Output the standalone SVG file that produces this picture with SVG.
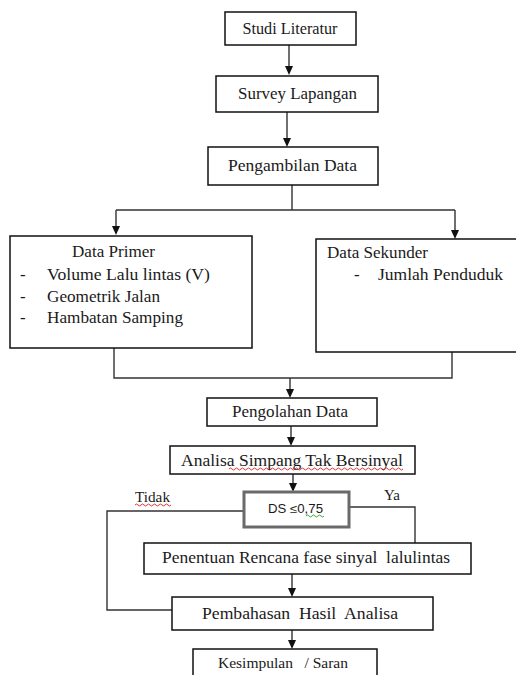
<svg xmlns="http://www.w3.org/2000/svg" width="516" height="675" viewBox="0 0 516 675">
<style>
.box{fill:#fff;stroke:#111;stroke-width:1.5}
.ds{fill:#fff;stroke:#6a6a6a;stroke-width:3}
.t{font-family:"Liberation Serif","Times New Roman",serif;font-size:17px;fill:#1a1a1a}
.c{text-anchor:middle}
.s{font-family:"Liberation Sans",Arial,sans-serif;font-size:12px;fill:#1a1a1a}
.ln{fill:none;stroke:#333;stroke-width:1.4}
.ah{fill:#111}
.sq{fill:none;stroke:#e02020;stroke-width:0.9}
.sqg{fill:none;stroke:#2a9a2a;stroke-width:0.9}
</style>
<rect width="516" height="675" fill="#fff"/>
<g id="connectors">
<path class="ln" d="M289,45 V67"/>
<path class="ah" d="M285,66 L293,66 L289,75 Z"/>
<path class="ln" d="M287,112 V139"/>
<path class="ah" d="M283,138 L291,138 L287,147 Z"/>
<path class="ln" d="M292,185 V210 M116,210 H455 M116,210 V227 M455,210 V231"/>
<path class="ah" d="M112,226 L120,226 L116,235 Z"/>
<path class="ah" d="M451,230 L459,230 L455,239 Z"/>
<path class="ln" d="M114,348 V378 H452 V352 M290,378 V390"/>
<path class="ah" d="M286,389 L294,389 L290,398 Z"/>
<path class="ln" d="M291,426 V438"/>
<path class="ah" d="M287,437 L295,437 L291,446 Z"/>
<path class="ln" d="M293,474 V484"/>
<path class="ah" d="M289,483 L297,483 L293,492 Z"/>
<path class="ln" d="M244,511 H107 V610 H172"/>
<path class="ln" d="M349,507 H415 V543"/>
<path class="ln" d="M292,574 V589"/>
<path class="ah" d="M288,588 L296,588 L292,597 Z"/>
<path class="ln" d="M292,630 V641"/>
<path class="ah" d="M288,640 L296,640 L292,649 Z"/>
</g>
<g id="studi">
<rect class="box" x="225" y="12" width="131" height="33"/>
<text class="t c" x="290" y="34" textLength="95" lengthAdjust="spacingAndGlyphs">Studi Literatur</text>
</g>
<g id="survey">
<rect class="box" x="216" y="76" width="162" height="36"/>
<text class="t c" x="297.5" y="99" textLength="119" lengthAdjust="spacingAndGlyphs">Survey Lapangan</text>
</g>
<g id="pengambilan">
<rect class="box" x="208" y="147" width="170" height="38"/>
<text class="t c" x="292.5" y="171" textLength="129" lengthAdjust="spacingAndGlyphs">Pengambilan Data</text>
</g>
<g id="primer">
<rect class="box" x="10" y="236" width="242" height="112"/>
<text class="t" x="72" y="257" textLength="83" lengthAdjust="spacingAndGlyphs">Data Primer</text>
<text class="t" x="20" y="280">-</text>
<text class="t" x="47" y="280" textLength="163" lengthAdjust="spacingAndGlyphs">Volume Lalu lintas (V)</text>
<text class="t" x="20" y="302">-</text>
<text class="t" x="47" y="302" textLength="113" lengthAdjust="spacingAndGlyphs">Geometrik Jalan</text>
<text class="t" x="20" y="323">-</text>
<text class="t" x="47" y="323" textLength="136" lengthAdjust="spacingAndGlyphs">Hambatan Samping</text>
</g>
<g id="sekunder">
<rect class="box" x="316" y="239" width="206" height="113"/>
<text class="t" x="327" y="258" textLength="101" lengthAdjust="spacingAndGlyphs">Data Sekunder</text>
<text class="t" x="354" y="280">-</text>
<text class="t" x="378" y="280" textLength="125" lengthAdjust="spacingAndGlyphs">Jumlah Penduduk</text>
</g>
<g id="pengolahan">
<rect class="box" x="207" y="398" width="170" height="28"/>
<text class="t c" x="290" y="417" textLength="116" lengthAdjust="spacingAndGlyphs">Pengolahan Data</text>
</g>
<g id="analisa">
<rect class="box" x="170" y="446" width="245" height="28"/>
<text class="t c" x="292" y="466" textLength="222" lengthAdjust="spacingAndGlyphs">Analisa Simpang Tak Bersinyal</text>
<path class="sq" d="M229,469 q1.5,-2 3,0 t3,0 t3,0 t3,0 t3,0 t3,0 t3,0 t3,0 t3,0 t3,0 t3,0 t3,0 t3,0 t3,0 t3,0 t3,0 t3,0 t3,0 t3,0 t3,0 t3,0 t3,0 t3,0 t3,0 t3,0 t3,0 t3,0 t3,0 t3,0 t3,0 t3,0 t3,0 t3,0 t3,0 t3,0 t3,0 t3,0 t3,0 t3,0 t3,0 t3,0 t3,0 t3,0 t3,0 t3,0 t3,0 t3,0 t3,0 t3,0 t3,0 t3,0 t3,0 t3,0 t3,0 t3,0 t3,0 t3,0 t3,0"/>
</g>
<g id="ds">
<rect class="ds" x="244" y="492" width="105" height="35"/>
<text class="s c" x="295.5" y="513" textLength="55" lengthAdjust="spacingAndGlyphs">DS ≤0,75</text>
<path class="sqg" d="M306,516 q1.5,-2 3,0 t3,0 t3,0 t3,0 t3,0 t3,0"/>
</g>
<g id="labels">
<text class="t" x="135" y="502" style="font-size:14px" textLength="35" lengthAdjust="spacingAndGlyphs">Tidak</text>
<path class="sq" d="M135,505 q1.5,-2 3,0 t3,0 t3,0 t3,0 t3,0 t3,0 t3,0 t3,0 t3,0 t3,0 t3,0 t3,0"/>
<text class="t" x="384" y="500" style="font-size:14px" textLength="16" lengthAdjust="spacingAndGlyphs">Ya</text>
</g>
<g id="penentuan">
<rect class="box" x="144" y="543" width="327" height="31"/>
<text class="t c" x="306" y="563" textLength="288" lengthAdjust="spacingAndGlyphs" xml:space="preserve">Penentuan Rencana fase sinyal  lalulintas</text>
</g>
<g id="pembahasan">
<rect class="box" x="172" y="597" width="261" height="33"/>
<text class="t c" x="300" y="619" textLength="196" lengthAdjust="spacingAndGlyphs" xml:space="preserve">Pembahasan  Hasil  Analisa</text>
</g>
<g id="kesimpulan">
<rect class="box" x="193" y="649" width="184" height="30"/>
<text class="t c" x="283" y="668" style="font-size:14px" textLength="130" lengthAdjust="spacingAndGlyphs" xml:space="preserve">Kesimpulan   / Saran</text>
</g>
</svg>
